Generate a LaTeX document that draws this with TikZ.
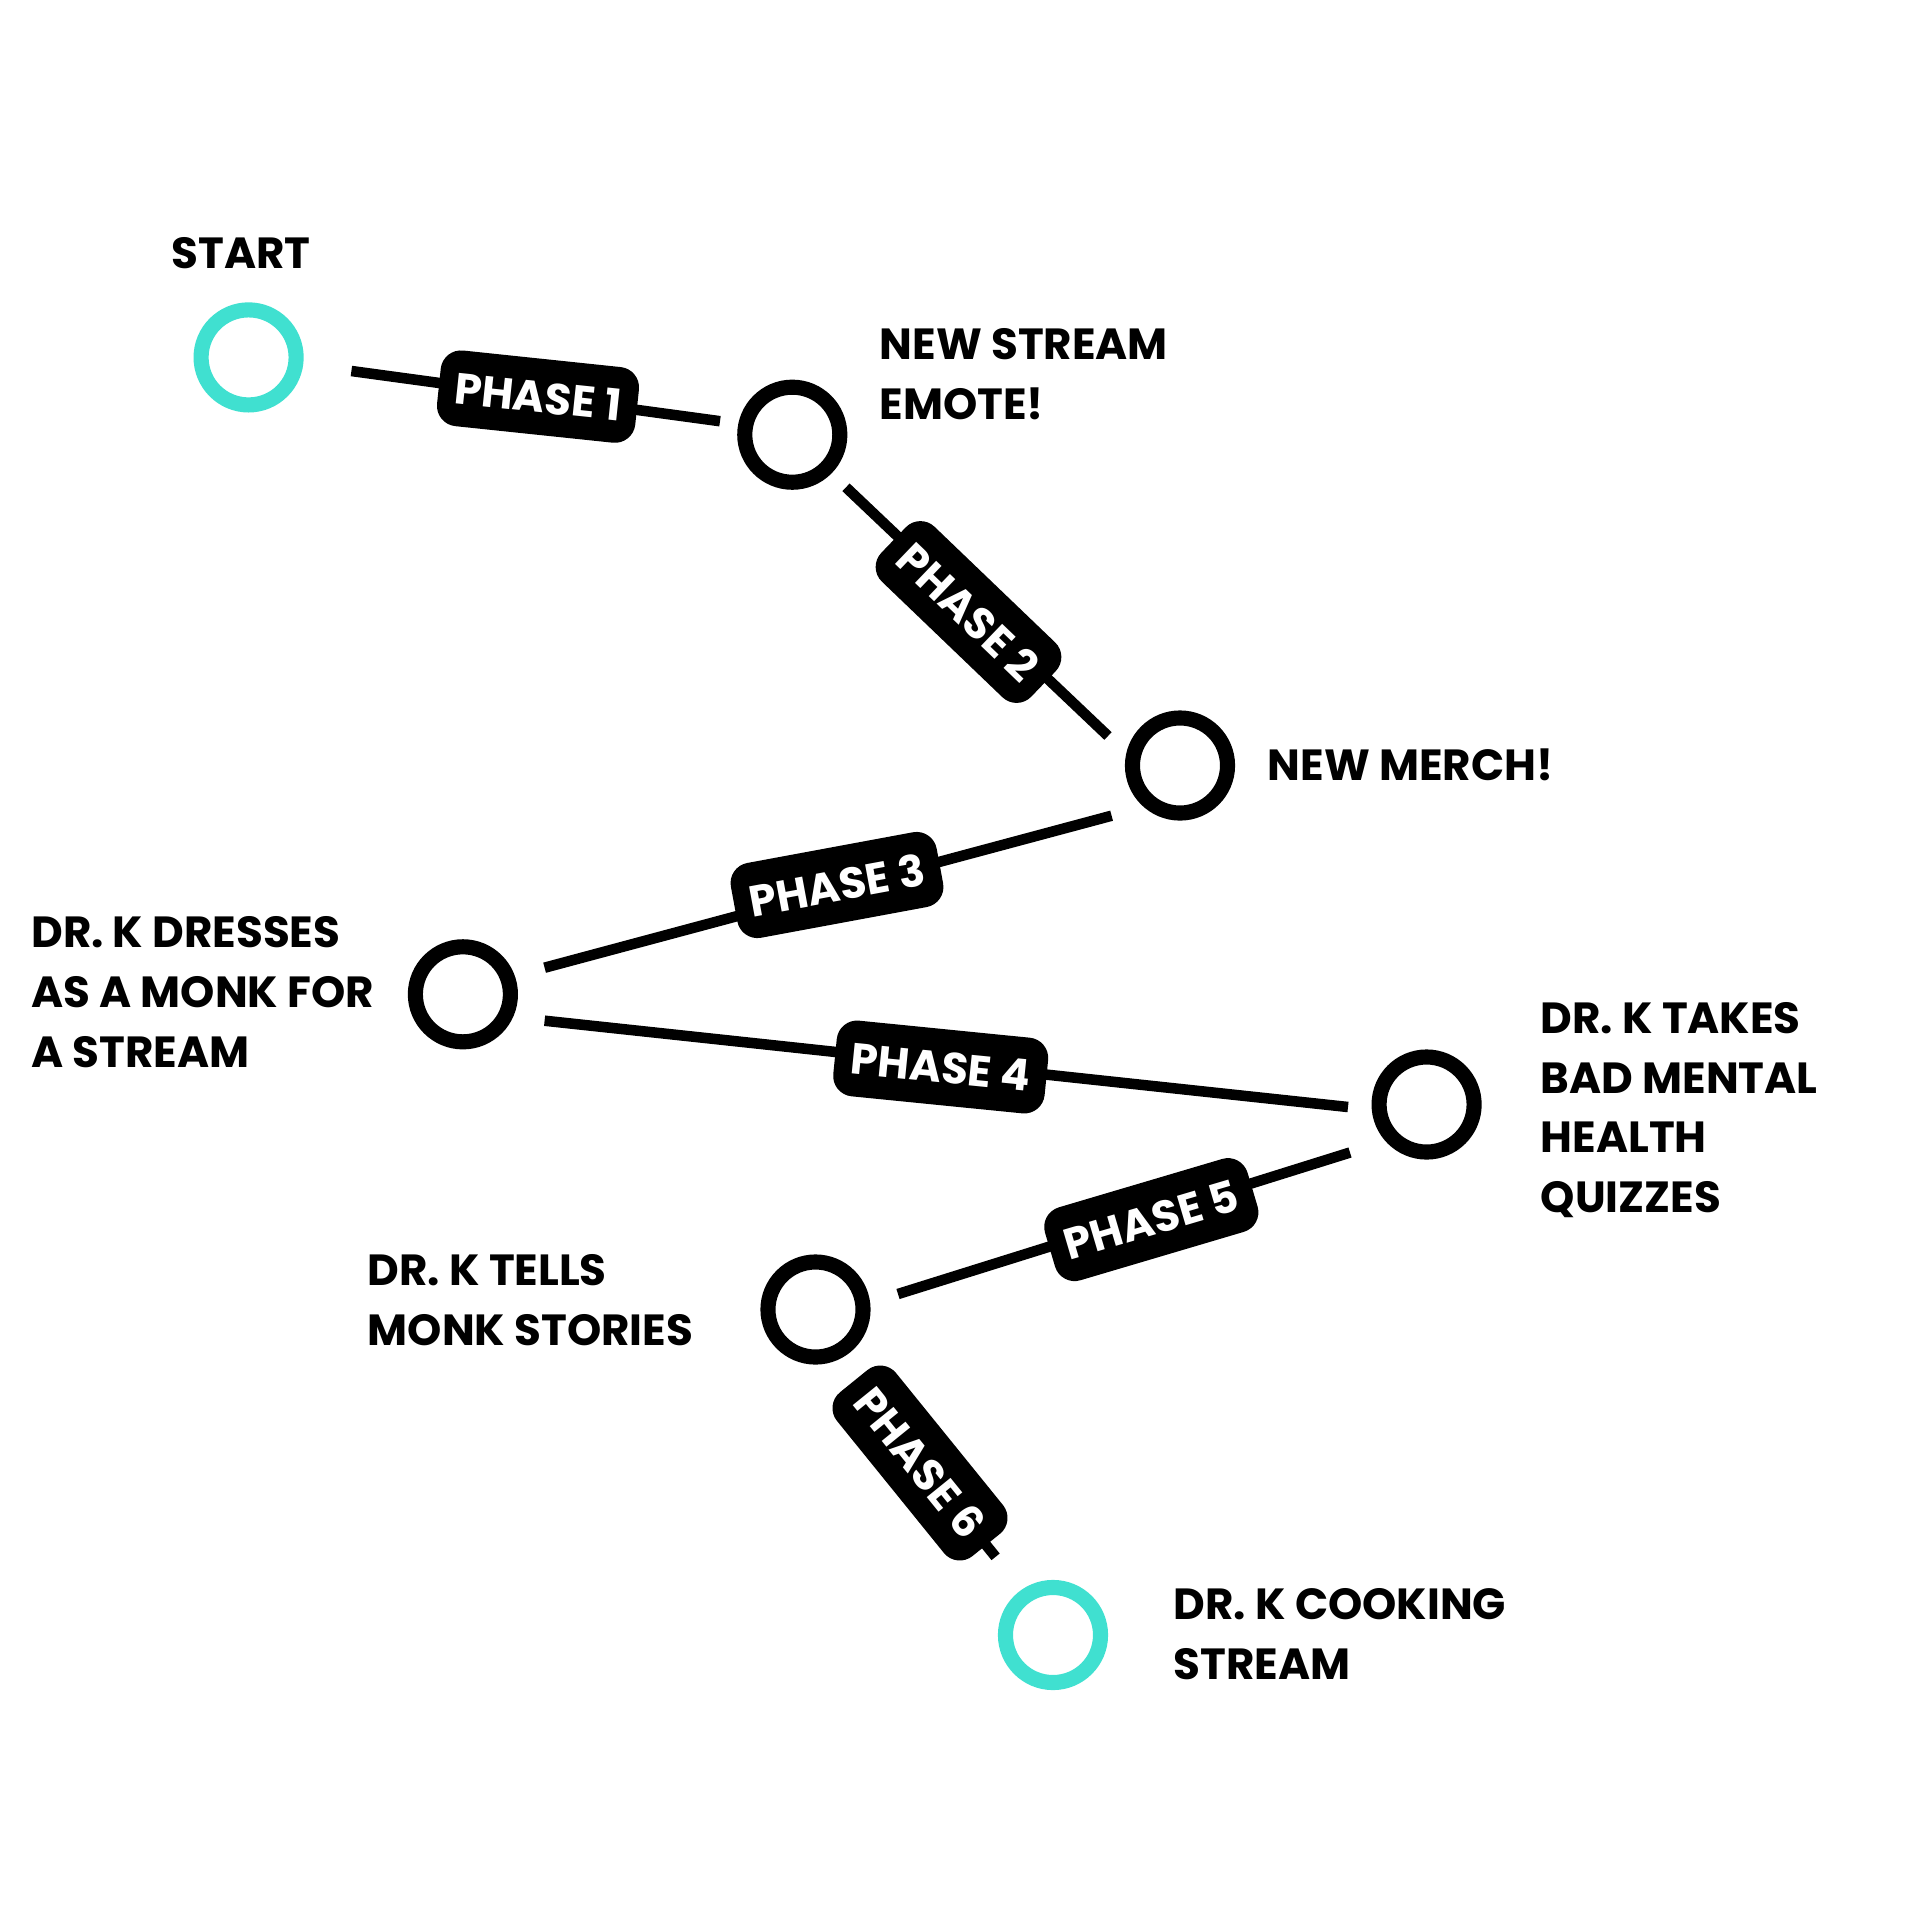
\documentclass[tikz,border=0pt]{standalone}
\usepackage{fontspec}
\setmainfont{Poppins}
\definecolor{tealring}{RGB}{64,224,208}
\begin{document}
\begin{tikzpicture}[x=0.01cm,y=-0.01cm,
  ring/.style={circle,draw=black,line width=4.3pt,minimum size=0.95cm,inner sep=0pt},
  tring/.style={ring,draw=tealring},
  conn/.style={line width=3pt},
  phase/.style={fill=black,text=white,rounded corners=5.8pt,inner xsep=0.16cm,inner ysep=0pt,minimum height=0.76cm,font=\fontsize{12.4}{15}\selectfont\bfseries},
  lbl/.style={anchor=north west,inner sep=0pt,align=left,font=\fontsize{12.4}{17}\selectfont\bfseries}
]
\useasboundingbox (0,0) rectangle (1920,1920);
% circles
\node[tring] (start) at (248.6,357.4) {};
\node[ring] (emote) at (792.3,434.7) {};
\node[ring] (merch) at (1180,765.5) {};
\node[ring] (monk) at (462.9,994.3) {};
\node[ring] (quiz) at (1426.6,1104.5) {};
\node[ring] (stories) at (815.5,1309.5) {};
\node[tring] (cooking) at (1053,1635) {};
% labels
\node[lbl] (tstart) at (171,236.3) {START};
\node[lbl] (temote) at (879,328.2) {NEW STREAM\\EMOTE!};
\node[lbl] (tmerch) at (1267,748.2) {NEW MERCH!};
\node[lbl] (tmonk) at (30.6,916) {DR. K DRESSES\\AS A MONK FOR\\A STREAM};
\node[lbl] (tquiz) at (1540,1001.6) {DR. K TAKES\\BAD MENTAL\\HEALTH\\QUIZZES};
\node[lbl] (tstories) at (367,1254) {DR. K TELLS\\MONK STORIES};
\node[lbl] (tcooking) at (1173,1588) {DR. K COOKING\\STREAM};
% connector ends
\coordinate (p1a) at (351.4,371);   \coordinate (p1b) at (720,421.2);
\coordinate (p2a) at (846,487.3);   \coordinate (p2b) at (1108,736);
\coordinate (p3a) at (1111.6,815.7);\coordinate (p3b) at (544.6,967.7);
\coordinate (p4a) at (544.6,1020.7);\coordinate (p4b) at (1348,1107);
\coordinate (p5a) at (1350,1152.5); \coordinate (p5b) at (898,1294);
\coordinate (p6a) at (860,1389);    \coordinate (p6b) at (995.6,1556.8);
\draw[conn] (p1a) -- (p1b);
\draw[conn] (p2a) -- (p2b);
\draw[conn] (p3a) -- (p3b);
\draw[conn] (p4a) -- (p4b);
\draw[conn] (p5a) -- (p5b);
\draw[conn] (p6a) -- (p6b);
% phase labels
\node[phase,rotate=-6] (ph1) at (538,396.6) {PHASE 1};
\node[phase,rotate=-43.8] (ph2) at (968.5,612) {PHASE 2};
\node[phase,rotate=10.5] (ph3) at (837,885) {PHASE 3};
\node[phase,rotate=-5.7] (ph4) at (940.7,1067) {PHASE 4};
\node[phase,rotate=16.5] (ph5) at (1151.3,1219.6) {PHASE 5};
\node[phase,rotate=-51] (ph6) at (920,1463) {PHASE 6};
\end{tikzpicture}
\end{document}
